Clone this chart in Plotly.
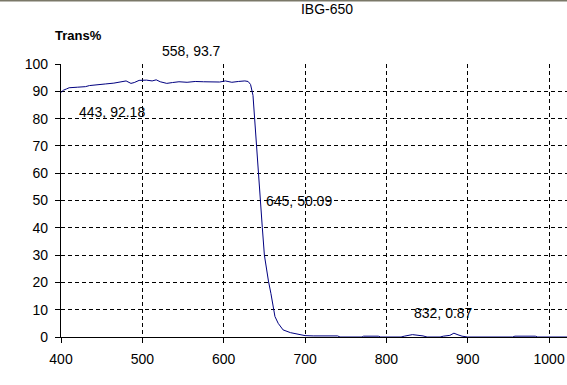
import plotly.graph_objects as go

wavelength = [400, 403, 407, 410, 420, 430, 435, 445, 455, 465, 475, 480, 486, 490, 496,
              505, 512, 517, 522, 530, 537, 545, 555, 565, 575, 585, 595, 602, 610, 618,
              626, 630, 633, 636, 638, 640, 642, 645, 647.5, 650, 652, 655, 658, 660, 663,
              667, 673, 682, 690, 700, 710, 720, 740, 743, 770, 772, 790, 793, 818, 822,
              832, 845, 850, 866, 870, 878, 883, 888, 893, 900, 955, 958, 983, 986, 1022]
trans = [89.6, 90.4, 90.9, 91.3, 91.5, 91.7, 92.1, 92.5, 92.7, 93.0, 93.4, 93.8, 92.9, 93.2, 94.0,
         94.1, 93.8, 94.2, 93.5, 92.9, 93.2, 93.5, 93.3, 93.6, 93.5, 93.5, 93.4, 93.8, 93.3, 93.6,
         93.8, 93.6, 92.5, 88.5, 80, 70, 60, 50, 40, 30, 25.5, 20.5, 16, 12.4, 7.5,
         5, 2.6, 1.6, 1.0, 0.5, 0.4, 0.4, 0.4, 0, 0, 0.3, 0.3, 0, 0, 0.3,
         0.87, 0.4, 0, 0, 0.3, 0.6, 1.4, 0.8, 0.3, 0, 0, 0.3, 0.3, 0, 0]

x_ticks = [400, 500, 600, 700, 800, 900, 1000]
y_ticks = [0, 10, 20, 30, 40, 50, 60, 70, 80, 90, 100]

labels = [("443, 92.18", 463, 82.6, "center"),
          ("645, 50.09", 650, 49.9, "left"),
          ("832, 0.87", 870, 8.7, "center")]

FONT = "Liberation Sans, Arial, sans-serif"

fig = go.Figure()
fig.add_trace(go.Scatter(x=wavelength, y=trans, mode="lines",
                         line=dict(color="#000080", width=1), showlegend=False))

for text, lx, ly, anchor in labels:
    fig.add_annotation(x=lx, y=ly, xref="x", yref="y", text=text, showarrow=False,
                       xanchor=anchor, yanchor="middle",
                       font=dict(family=FONT, size=14, color="black"))

# label above the plot top (outside y range) -> paper y
fig.add_annotation(x=561, y=1 + 13 / 273, xref="x", yref="paper", text="558, 93.7",
                   showarrow=False, xanchor="center", yanchor="middle",
                   font=dict(family=FONT, size=14, color="black"))

fig.add_annotation(x=-0.016, y=1.1026, xref="paper", yref="paper", text="<b>Trans%</b>",
                   showarrow=False, xanchor="left", yanchor="middle",
                   font=dict(family=FONT, size=13, color="black"))

fig.add_shape(type="line", xref="paper", yref="paper", x0=-0.2, x1=1.0,
              y0=1 + 64 / 273 - 0.002, y1=1 + 64 / 273 - 0.002,
              line=dict(color="#7a7868", width=2))

fig.update_layout(
    width=567, height=385,
    margin=dict(l=61, r=0, t=64, b=48),
    paper_bgcolor="white", plot_bgcolor="white",
    title=dict(text="IBG-650", x=327 / 567, xanchor="center", y=1 - 9 / 385,
               yanchor="middle", font=dict(family=FONT, size=14, color="black")),
    font=dict(family=FONT, size=14, color="black"),
)
fig.update_xaxes(range=[400, 1022], tickvals=x_ticks, ticktext=[str(v) for v in x_ticks],
                 showline=True, linecolor="black", linewidth=1.2,
                 ticks="outside", ticklen=5, tickcolor="black", ticklabelstandoff=4,
                 showgrid=True, gridcolor="black", gridwidth=1, griddash="4px,3px",
                 zeroline=False, tickfont=dict(family=FONT, size=14, color="black"))
fig.update_yaxes(range=[0, 100], tickvals=y_ticks, ticktext=[str(v) for v in y_ticks],
                 showline=True, linecolor="black", linewidth=1.2,
                 ticks="outside", ticklen=5, tickcolor="black", ticklabelstandoff=4,
                 showgrid=True, gridcolor="black", gridwidth=1, griddash="4px,3px",
                 zeroline=False, tickfont=dict(family=FONT, size=14, color="black"))

fig.write_html("out.html")
